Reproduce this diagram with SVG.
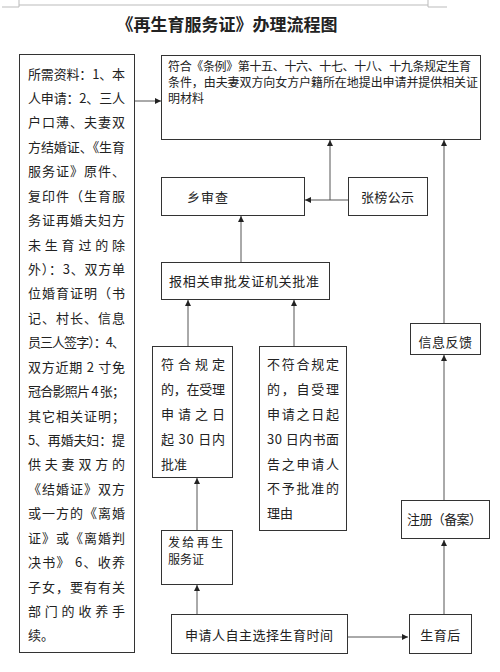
<svg xmlns="http://www.w3.org/2000/svg" width="500" height="672" viewBox="0 0 500 672">
<style>
.box{fill:#fff;stroke:#333;stroke-width:1}
.t{font-family:"Noto Sans CJK SC","Noto Sans",sans-serif;fill:#222;dominant-baseline:central}
.s12{font-size:12px}
.s13{font-size:13px}
.con{fill:none;stroke:#555;stroke-width:1}
.page{stroke:#bbb;stroke-width:1;fill:none}
</style>
<defs>
<marker id="ah" viewBox="0 0 6 6" refX="6" refY="3" markerWidth="6" markerHeight="6" markerUnits="userSpaceOnUse" orient="auto">
<path d="M0,0 L6,3 L0,6 z" fill="#222"/>
</marker>
</defs>
<rect width="500" height="672" fill="#fff"/>
<g id="page-marks">
<path class="page" d="M19,5 H428 M19,0 V7 M2,7 H19 M428,0 V7 M428,7 H447"/>
</g>
<g id="title">
<text class="t" x="227" y="23" text-anchor="middle" font-size="17" font-weight="bold" textLength="221" lengthAdjust="spacingAndGlyphs">《再生育服务证》办理流程图</text>
</g>
<g id="connectors">
<path class="con" d="M135,101 H161" marker-end="url(#ah)"/>
<path class="con" d="M348,200 H305" marker-end="url(#ah)"/>
<path class="con" d="M330,200 V140" marker-end="url(#ah)"/>
<path class="con" d="M444,323 V140" marker-end="url(#ah)"/>
<path class="con" d="M241,262 V216" marker-end="url(#ah)"/>
<path class="con" d="M188,346 V300" marker-end="url(#ah)"/>
<path class="con" d="M294,346 V300" marker-end="url(#ah)"/>
<path class="con" d="M197,530 V478" marker-end="url(#ah)"/>
<path class="con" d="M197,614 V585" marker-end="url(#ah)"/>
<path class="con" d="M348,637 H408" marker-end="url(#ah)"/>
<path class="con" d="M444,614 V540" marker-end="url(#ah)"/>
<path class="con" d="M444,500 V355" marker-end="url(#ah)"/>
</g>
<g id="materials">
<rect class="box" x="19.5" y="54.5" width="115" height="598"/>
<g class="t s13">
<text x="28" y="73" textLength="97" lengthAdjust="spacing">所需资料：1、本</text>
<text x="28" y="97.4" textLength="97" lengthAdjust="spacing">人申请：2、三人</text>
<text x="28" y="121.9" textLength="97" lengthAdjust="spacing">户口薄、夫妻双</text>
<text x="28" y="146.3" textLength="97" lengthAdjust="spacing">方结婚证、《生育</text>
<text x="28" y="170.7" textLength="97" lengthAdjust="spacing">服务证》原件、</text>
<text x="28" y="195.2" textLength="97" lengthAdjust="spacing">复印件（生育服</text>
<text x="28" y="219.6" textLength="97" lengthAdjust="spacing">务证再婚夫妇方</text>
<text x="28" y="244" textLength="97" lengthAdjust="spacing">未生育过的除</text>
<text x="28" y="268.4" textLength="97" lengthAdjust="spacing">外）：3、双方单</text>
<text x="28" y="292.9" textLength="97" lengthAdjust="spacing">位婚育证明（书</text>
<text x="28" y="317.3" textLength="97" lengthAdjust="spacing">记、村长、信息</text>
<text x="28" y="341.7" textLength="97" lengthAdjust="spacing">员三人签字）：4、</text>
<text x="28" y="366.2" textLength="97" lengthAdjust="spacing">双方近期 2 寸免</text>
<text x="28" y="390.6" textLength="97" lengthAdjust="spacing">冠合影照片 4 张；</text>
<text x="28" y="415" textLength="97" lengthAdjust="spacing">其它相关证明；</text>
<text x="28" y="439.4" textLength="97" lengthAdjust="spacing">5、再婚夫妇：提</text>
<text x="28" y="463.9" textLength="97" lengthAdjust="spacing">供夫妻双方的</text>
<text x="28" y="488.3" textLength="97" lengthAdjust="spacing">《结婚证》双方</text>
<text x="28" y="512.7" textLength="97" lengthAdjust="spacing">或一方的《离婚</text>
<text x="28" y="537.2" textLength="97" lengthAdjust="spacing">证》或《离婚判</text>
<text x="28" y="561.6" textLength="97" lengthAdjust="spacing">决书》 6、收养</text>
<text x="28" y="586" textLength="97" lengthAdjust="spacing">子女，要有有关</text>
<text x="28" y="610.4" textLength="97" lengthAdjust="spacing">部门的收养手</text>
<text x="28" y="634.9">续。</text>
</g>
</g>
<g id="conditions">
<rect class="box" x="161.5" y="55.5" width="319" height="84"/>
<g class="t s12">
<text x="168" y="65" textLength="303" lengthAdjust="spacing">符合《条例》第十五、十六、十七、十八、十九条规定生育</text>
<text x="168" y="81" textLength="310" lengthAdjust="spacing">条件，由夫妻双方向女方户籍所在地提出申请并提供相关证</text>
<text x="168" y="97">明材料</text>
</g>
</g>
<g id="township-review">
<rect class="box" x="161.5" y="177.5" width="143" height="38"/>
<text class="t s13" x="187" y="196" letter-spacing="1">乡审查</text>
</g>
<g id="public-notice">
<rect class="box" x="348.5" y="177.5" width="79" height="38"/>
<text class="t s13" x="361" y="196" textLength="53" lengthAdjust="spacing">张榜公示</text>
</g>
<g id="report-approval">
<rect class="box" x="161.5" y="262.5" width="168" height="37"/>
<text class="t s13" x="169" y="280" textLength="150" lengthAdjust="spacing">报相关审批发证机关批准</text>
</g>
<g id="compliant">
<rect class="box" x="152.5" y="346.5" width="80" height="131"/>
<g class="t s13">
<text x="161" y="363" textLength="64" lengthAdjust="spacing">符合规定</text>
<text x="161" y="388" textLength="64" lengthAdjust="spacing">的，在受理</text>
<text x="161" y="413" textLength="64" lengthAdjust="spacing">申请之日</text>
<text x="161" y="438" textLength="64" lengthAdjust="spacing">起 30 日内</text>
<text x="161" y="463">批准</text>
</g>
</g>
<g id="non-compliant">
<rect class="box" x="259.5" y="346.5" width="87" height="184"/>
<g class="t s13">
<text x="267" y="363" textLength="72" lengthAdjust="spacing">不符合规定</text>
<text x="267" y="388" textLength="72" lengthAdjust="spacing">的，自受理</text>
<text x="267" y="413" textLength="72" lengthAdjust="spacing">申请之日起</text>
<text x="267" y="438" textLength="72" lengthAdjust="spacing">30 日内书面</text>
<text x="267" y="463" textLength="72" lengthAdjust="spacing">告之申请人</text>
<text x="267" y="487" textLength="72" lengthAdjust="spacing">不予批准的</text>
<text x="267" y="512">理由</text>
</g>
</g>
<g id="issue-certificate">
<rect class="box" x="161.5" y="530.5" width="71" height="54"/>
<g class="t s12">
<text x="168" y="541.5" textLength="55" lengthAdjust="spacing">发给再生</text>
<text x="168" y="558.5">服务证</text>
</g>
</g>
<g id="choose-time">
<rect class="box" x="171.5" y="614.5" width="176" height="39"/>
<text class="t s13" x="185" y="634" textLength="148" lengthAdjust="spacing">申请人自主选择生育时间</text>
</g>
<g id="after-birth">
<rect class="box" x="409.5" y="614.5" width="62" height="39"/>
<text class="t s13" x="440.5" y="634" text-anchor="middle" letter-spacing="0.5">生育后</text>
</g>
<g id="register">
<rect class="box" x="401.5" y="500.5" width="88" height="38"/>
<text class="t s13" x="407" y="518" textLength="75" lengthAdjust="spacing">注册（备案）</text>
</g>
<g id="feedback">
<rect class="box" x="410.5" y="323.5" width="70" height="31"/>
<text class="t s13" x="445.5" y="341" text-anchor="middle" letter-spacing="0.5">信息反馈</text>
</g>
</svg>
